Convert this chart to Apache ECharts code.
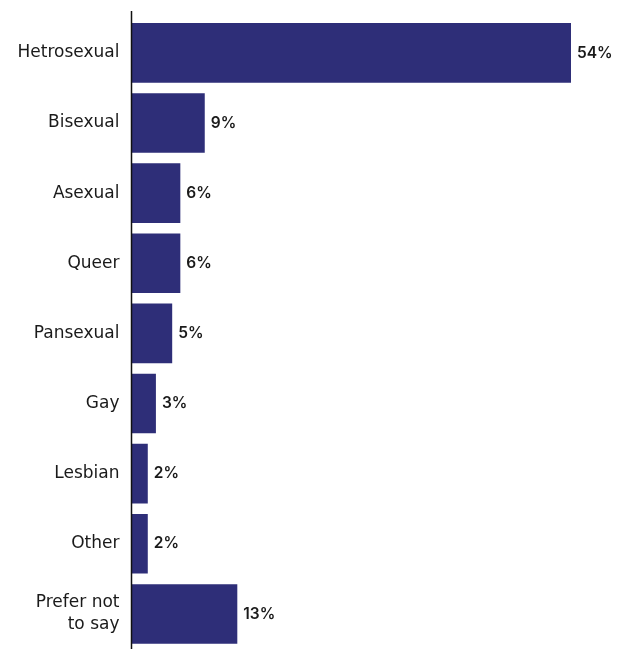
<!DOCTYPE html>
<html>
<head>
<meta charset="utf-8">
<script src="https://cdn.jsdelivr.net/npm/echarts@6/dist/echarts.min.js"></script>
<style>
  html, body { margin: 0; padding: 0; background: #ffffff; }
  #chart { width: 625px; height: 649px; }
</style>
</head>
<body>
<div id="chart"></div>
<script>
// Sexual orientation of respondents (% of total)
const categories = [
  'Hetrosexual', 'Bisexual', 'Asexual', 'Queer', 'Pansexual',
  'Gay', 'Lesbian', 'Other', 'Prefer not\nto say'
];
const shares = [54, 9, 6, 6, 5, 3, 2, 2, 13];

const chart = echarts.init(document.getElementById('chart'), null, { renderer: 'canvas' });

const barColor = '#2e2e78';
const textColor = '#1a1a1a';
const labelFont = '"DejaVu Sans", "Noto Sans", sans-serif';
const valueFont = 'Inter, "Noto Sans", sans-serif';

chart.setOption({
  animation: false,
  grid: { left: 131.5, right: 54, top: 17.8, bottom: 0, containLabel: false },
  xAxis: {
    type: 'value',
    min: 0,
    max: 54,
    show: false
  },
  yAxis: {
    type: 'category',
    inverse: true,
    data: categories,
    axisLine: { show: false },
    axisTick: { show: false },
    axisLabel: {
      color: textColor,
      fontFamily: labelFont,
      fontSize: 17,
      margin: 12,
      lineHeight: 22,
      align: 'right'
    }
  },
  series: [{
    type: 'bar',
    data: shares,
    barCategoryGap: '15%',
    itemStyle: { color: barColor },
    label: {
      show: true,
      position: 'right',
      distance: 6,
      formatter: p => p.value + '%',
      color: textColor,
      fontFamily: valueFont,
      fontWeight: 600,
      fontSize: 15.5
    }
  }],
  graphic: [{
    type: 'line',
    shape: { x1: 131.5, y1: 11, x2: 131.5, y2: 649 },
    style: { stroke: '#111111', lineWidth: 1.5 },
    z: 10
  }]
});
</script>
</body>
</html>
